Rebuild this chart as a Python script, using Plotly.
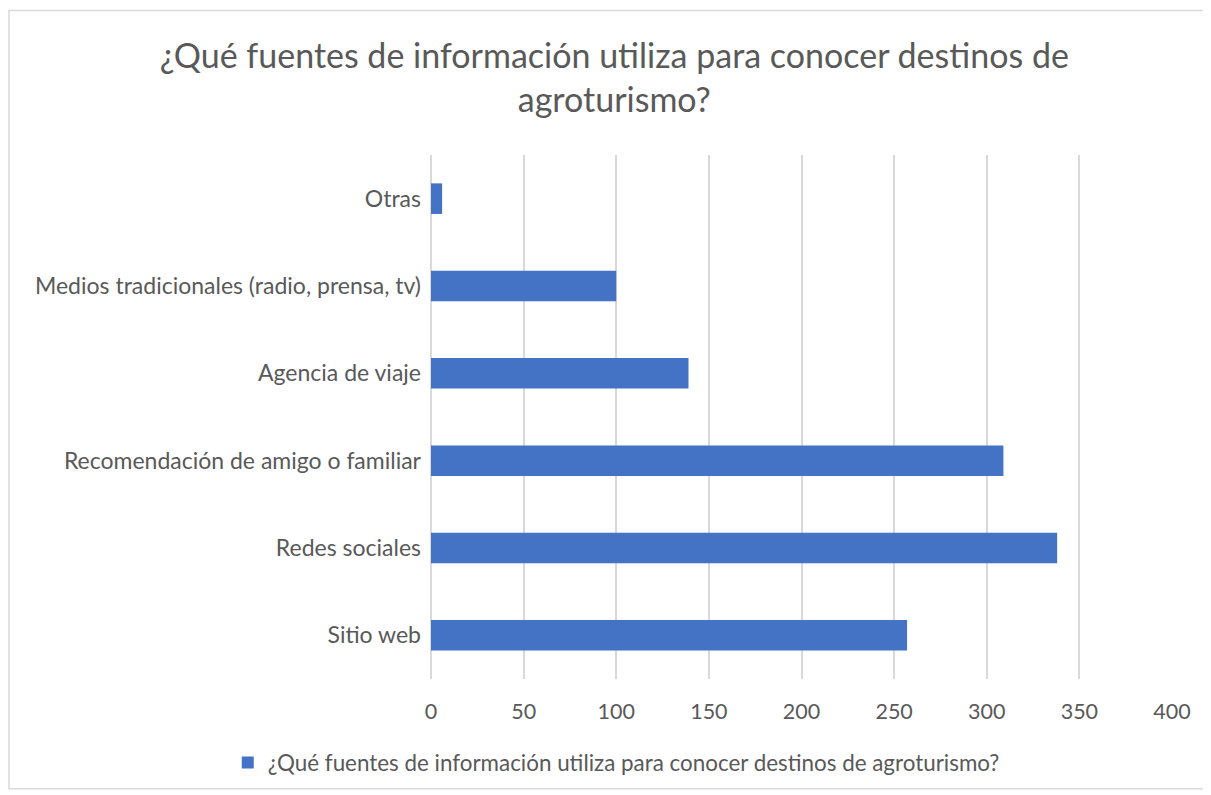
import plotly.graph_objects as go

categorias = ["Sitio web", "Redes sociales", "Recomendación de amigo o familiar",
              "Agencia de viaje", "Medios tradicionales (radio, prensa, tv)", "Otras"]
valores = [257, 338, 309, 139, 100, 6]
ticks_x = [0, 50, 100, 150, 200, 250, 300, 350, 400]
titulo = "¿Qué fuentes de información utiliza para conocer destinos de<br>agroturismo?"
serie = "¿Qué fuentes de información utiliza para conocer destinos de agroturismo?"

fuente = "Lato, 'Open Sans', sans-serif"
gris = "#595959"

fig = go.Figure()
fig.add_trace(go.Bar(y=categorias, x=valores, orientation="h", name=serie,
                     marker=dict(color="#4472C4", line=dict(color="#4472C4", width=0))))

# la página tiene 8px de margen en el body, por eso la figura es algo más pequeña
fig.update_layout(
    width=1203, height=787,
    margin=dict(l=423, r=39, t=147, b=115),
    paper_bgcolor="white", plot_bgcolor="white",
    font=dict(family=fuente, color=gris, size=22),
    title=dict(text=titulo, x=0.504, xanchor="center", y=0.924, yanchor="middle",
               font=dict(size=34, color=gris, family=fuente)),
    bargap=0.65,
    showlegend=True,
    legend=dict(orientation="h", x=0.25, xanchor="center", y=-0.158, yanchor="middle",
                font=dict(size=22.4, color=gris)),
)
fig.update_xaxes(range=[0, 400], tickvals=ticks_x, showgrid=True, gridcolor="#d9d9d9",
                 gridwidth=1.5, zeroline=True, zerolinecolor="#d9d9d9", zerolinewidth=1.5,
                 showline=False, ticks="", tickfont=dict(size=21.5), ticklabelstandoff=17)
fig.update_yaxes(showgrid=False, zeroline=False, showline=False, ticks="",
                 tickfont=dict(size=23), ticklabelstandoff=9)

# marco exterior del gráfico
fig.add_shape(type="rect", xref="paper", yref="paper", x0=-0.5695, x1=1.0472,
              y0=-0.2095, y1=1.276, line=dict(color="#d9d9d9", width=1.5))

fig.write_html("out.html")
